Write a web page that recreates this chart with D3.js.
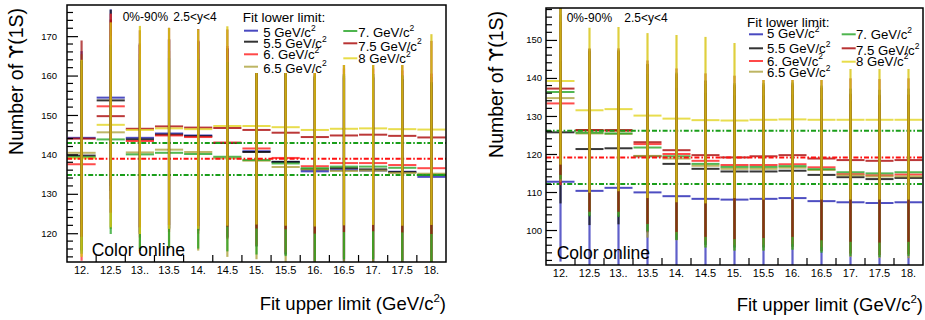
<!DOCTYPE html>
<html><head><meta charset="utf-8">
<script src="https://cdn.jsdelivr.net/npm/d3@7"></script>
<style>body{margin:0;background:#fff} text{font-family:"Liberation Sans",Arial,Helvetica,sans-serif;}</style>
</head><body><svg id="c" width="925" height="320"></svg>
<script>
// ---------------- DATA ----------------
const categories = ["12.","12.5","13..","13.5","14.","14.5","15.","15.5","16.","16.5","17.","17.5","18."];
const seriesNames = ["5 GeV/c","5.5 GeV/c","6. GeV/c","6.5 GeV/c","7. GeV/c","7.5 GeV/c","8 GeV/c"];
const seriesColors = ["#1c1cb0","#000000","#ff1a1a","#aca23c","#22a322","#a80000","#e2d41c"];

// Left panel: Number of Upsilon(1S) per fit upper limit, one array per fit lower limit
const left5  = [144.2,154.4,144.2,145.3,144.8,142.9,140.8,138.1,135.7,136.0,135.9,135.6,134.3];
const left55 = [139.7,153.7,143.8,145.0,144.6,142.9,140.6,138.1,136.2,136.5,136.2,135.5,134.8];
const left6  = [137.5,152.2,143.4,144.8,144.4,143.0,141.5,139.1,137.0,137.8,137.8,137.3,136.5];
const left65 = [140.4,145.6,140.5,141.2,140.6,139.0,138.4,136.8,136.3,135.8,135.9,135.3,135.1];
const left7  = [139.3,143.8,140.0,140.4,140.1,139.4,138.6,137.7,136.5,136.9,136.9,136.6,134.8];
const left75 = [144.0,149.7,146.5,147.1,146.8,146.7,146.2,145.5,144.4,144.8,145.0,144.7,144.3];
const left8  = [139.0,147.5,146.2,146.6,146.4,147.2,147.2,146.9,146.2,146.5,146.6,146.4,146.3];
// Left panel errors
const leftErr5  = [22.0,22.4,24.0,24.0,24.0,24.0,24.0,23.5,23.5,23.5,23.5,23.5,23.5];
const leftErr55 = [24.0,23.0,24.0,24.0,24.0,24.0,24.0,23.5,23.5,23.5,23.5,23.5,23.5];
const leftErr6  = [24.5,23.5,24.5,24.5,24.5,24.5,24.5,24.0,24.0,24.0,24.0,24.0,24.0];
const leftErr65 = [25.0,24.5,25.0,25.0,25.0,25.0,25.0,24.5,24.5,24.5,24.5,24.5,24.5];
const leftErr7  = [24.5,24.0,24.0,24.0,24.0,24.0,24.0,23.5,23.5,23.5,23.5,23.5,23.5];
const leftErr75 = [24.9,24.5,25.0,25.0,25.0,25.0,25.0,24.5,24.5,24.5,24.5,24.5,24.5];
const leftErr8  = [25.0,26.0,26.4,25.5,25.3,25.3,25.0,25.0,24.5,24.5,24.5,24.5,24.2];
// Left reference lines (dash-dot)
const leftGreenLines = [142.9,134.8];
const leftRedLines = [138.9];

// Right panel
const right5  = [112.7,110.3,111.1,109.9,108.9,108.2,108.0,108.2,108.4,107.6,107.3,107.1,107.3];
const right55 = [125.7,121.3,121.5,119.4,117.4,116.1,115.4,115.4,115.6,114.5,113.9,113.4,113.7];
const right6  = [133.3,126.2,126.1,122.6,120.0,118.2,117.1,117.1,117.3,116.5,114.7,114.4,114.6];
const right65 = [134.7,125.4,125.3,119.5,118.8,116.9,116.1,116.1,116.4,115.8,114.4,114.1,114.1];
const right7  = [136.3,125.6,125.4,121.7,119.4,117.4,116.6,116.6,116.8,116.0,115.2,114.9,115.2];
const right75 = [137.2,126.3,126.3,123.1,121.0,119.7,119.1,119.4,119.7,118.8,118.4,118.2,118.4];
const right8  = [139.2,131.5,131.8,130.1,129.3,128.9,128.8,129.0,129.1,129.0,129.0,129.0,129.0];
const rightErr5  = [21.0,21.0,21.0,21.0,21.0,21.0,21.0,21.0,21.0,21.0,21.0,21.0,21.0];
const rightErr55 = [18.7,20.0,20.0,20.0,20.0,20.0,20.0,20.0,20.0,20.0,20.0,20.0,20.0];
const rightErr6  = [21.5,21.0,21.0,21.0,21.0,21.0,21.0,21.0,21.0,21.0,21.0,21.0,21.0];
const rightErr65 = [22.0,21.5,21.5,21.5,21.5,21.5,21.5,21.5,21.5,21.5,21.5,21.5,21.5];
const rightErr7  = [23.0,22.0,22.0,22.0,22.0,22.0,22.0,22.0,22.0,22.0,22.0,22.0,22.0];
const rightErr75 = [22.7,21.5,21.5,21.5,21.5,21.5,21.5,21.5,21.5,21.5,21.5,21.5,21.5];
const rightErr8  = [22.0,21.7,21.6,21.7,22.0,21.9,20.4,21.0,21.0,21.0,21.0,21.0,21.0];
const rightGreenLines = [126.1,112.1];
const rightRedLines = [119.1];

const leftYTicks = [120,130,140,150,160,170];
const rightYTicks = [100,110,120,130,140,150];

// ---------------- DRAW ----------------
const svg = d3.select("#c");
svg.append("rect").attr("width",925).attr("height",320).attr("fill","#fff");
const barColors = ["#2a2ab8","#111111","#ff2a2a","#a89c30","#22a322","#a01010","#d8c414"];

function drawPanel(cfg){
  const g = svg.append("g");
  const x = d3.scaleBand().domain(categories).range([cfg.x0,cfg.x1]).padding(0);
  const y = d3.scaleLinear().domain([cfg.yMin,cfg.yMax]).range([cfg.y1,cfg.y0]);
  const clipId = "clip"+cfg.id;
  svg.append("clipPath").attr("id",clipId).append("rect")
    .attr("x",cfg.x0).attr("y",cfg.y0).attr("width",cfg.x1-cfg.x0).attr("height",cfg.y1-cfg.y0);
  const plot = g.append("g").attr("clip-path",`url(#${clipId})`);

  // horizontal histogram lines
  cfg.values.forEach((vals,si)=>{
    plot.append("g").selectAll("line").data(vals).join("line")
      .attr("x1",(d,i)=>x(categories[i])+0.5).attr("x2",(d,i)=>x(categories[i])+x.bandwidth()-0.5)
      .attr("y1",d=>y(d)).attr("y2",d=>y(d))
      .attr("stroke",seriesColors[si]).attr("stroke-width",2).attr("stroke-opacity",0.78);
  });
  // dash-dot reference lines
  const ref = [...cfg.green.map(v=>({v,c:"#1a9e1a"})),...cfg.red.map(v=>({v,c:"#ff1010"}))];
  plot.append("g").selectAll("line").data(ref).join("line")
    .attr("x1",cfg.x0).attr("x2",cfg.x1).attr("y1",d=>y(d.v)).attr("y2",d=>y(d.v))
    .attr("stroke",d=>d.c).attr("stroke-width",2).attr("stroke-dasharray","5,2,1.6,2");
  // vertical error bars
  cfg.values.forEach((vals,si)=>{
    const errs = cfg.errors[si];
    plot.append("g").selectAll("line").data(vals).join("line")
      .attr("x1",(d,i)=>x(categories[i])+x.bandwidth()/2).attr("x2",(d,i)=>x(categories[i])+x.bandwidth()/2)
      .attr("y1",(d,i)=>y(d+errs[i])).attr("y2",(d,i)=>y(d-errs[i]))
      .attr("stroke",barColors[si]).attr("stroke-width",2.2)
      .attr("stroke-opacity",si===6?0.82:0.75);
  });

  // legend white boxes (occluding)
  cfg.legendBoxes.forEach(b=>{
    g.append("rect").attr("x",b[0]).attr("y",b[1]).attr("width",b[2]).attr("height",b[3]).attr("fill","#fff");
  });

  // frame
  g.append("rect").attr("x",cfg.x0).attr("y",cfg.y0).attr("width",cfg.x1-cfg.x0).attr("height",cfg.y1-cfg.y0)
    .attr("fill","none").attr("stroke","#000").attr("stroke-width",1.5);

  // y axis
  const yAxis = d3.axisLeft(y).tickValues(cfg.yTicks).tickSize(-11).tickPadding(cfg.yLabelPad).tickFormat(d3.format("d"));
  const ya = g.append("g").attr("transform",`translate(${cfg.x0},0)`).call(yAxis);
  ya.select(".domain").remove();
  ya.selectAll("line").attr("stroke","#000").attr("stroke-width",1.2);
  ya.selectAll("text").attr("font-size",cfg.yLabelSize).attr("fill","#000");
  const minor = d3.range(Math.ceil(cfg.yMin/2)*2, cfg.yMax, 2).filter(v=>v%10!==0);
  g.append("g").selectAll("line").data(minor).join("line")
    .attr("x1",cfg.x0).attr("x2",cfg.x0+6).attr("y1",d=>y(d)).attr("y2",d=>y(d))
    .attr("stroke","#000").attr("stroke-width",1.2);

  // x axis: ticks at bin edges, labels at bin centers
  const edges = categories.slice(1);
  g.append("g").selectAll("line").data(edges).join("line")
    .attr("x1",d=>x(d)).attr("x2",d=>x(d)).attr("y1",cfg.y1).attr("y2",cfg.y1-7)
    .attr("stroke","#000").attr("stroke-width",1.2);
  g.append("g").selectAll("text").data(categories).join("text")
    .attr("x",d=>x(d)+x.bandwidth()/2).attr("y",cfg.y1+12)
    .attr("text-anchor","middle").attr("font-size",11).text(d=>d);

  // axis titles
  const yt = g.append("text").attr("transform",`translate(${cfg.yTitleX},${cfg.y0+3}) rotate(-90)`)
    .attr("text-anchor","end").attr("font-size",19.5);
  yt.append("tspan").text("Number of ");
  yt.append("tspan").attr("font-family","'DejaVu Sans',sans-serif").text("\u03D2");
  yt.append("tspan").text("(1S)");
  const xt = g.append("text").attr("x",cfg.x1).attr("y",cfg.xTitleY).attr("text-anchor","end").attr("font-size",18.5);
  xt.append("tspan").text("Fit upper limit (GeV/c");
  xt.append("tspan").attr("font-size",11.5).attr("dy",-8).text("2");
  xt.append("tspan").attr("dy",8).text(")");

  // top labels
  g.append("text").attr("x",cfg.lab1X).attr("y",cfg.labY).attr("font-size",12).text("0%-90%");
  g.append("text").attr("x",cfg.lab2X).attr("y",cfg.labY).attr("font-size",12).text("2.5<y<4");

  // legend
  g.append("text").attr("x",cfg.legTitle[0]).attr("y",cfg.legTitle[1]).attr("font-size",13.5).text("Fit lower limit:");
  cfg.legendEntries.forEach((e,si)=>{
    g.append("line").attr("x1",e[0]).attr("x2",e[0]+14).attr("y1",e[2]).attr("y2",e[2])
      .attr("stroke",seriesColors[si]).attr("stroke-width",2).attr("stroke-opacity",0.8);
    const t = g.append("text").attr("x",e[1]).attr("y",e[3]).attr("font-size",13.2);
    t.append("tspan").text(seriesNames[si]);
    t.append("tspan").attr("font-size",8.5).attr("dy",-6.5).text("2");
  });

  // Color online
  g.append("text").attr("x",cfg.colX).attr("y",cfg.colY).attr("font-size",17.5).text("Color online");
}

drawPanel({
  id:"L", x0:67, x1:446, y0:5, y1:262, yMin:112.7, yMax:177.9,
  yTicks:leftYTicks, yLabelPad:10, yLabelSize:9.5, yTitleX:22.5, xTitleY:310,
  values:[left5,left55,left6,left65,left7,left75,left8],
  errors:[leftErr5,leftErr55,leftErr6,leftErr65,leftErr7,leftErr75,leftErr8],
  green:leftGreenLines, red:leftRedLines,
  legendBoxes:[[238,7,98,66],[336,7,89,58]],
  lab1X:122.7, lab2X:173.3, labY:20.7,
  legTitle:[242.7,21.7],
  legendEntries:[[244,263.3,30.7,37.3],[244,263.3,41.7,48.3],[244,263.3,54.3,59.3],[244,263.3,66.7,72.7],
                 [343.3,358.3,31,37.3],[343.3,358.3,43.3,50.7],[343.3,358.3,58.3,63.3]],
  colX:91.7, colY:256
});
drawPanel({
  id:"R", x0:546, x1:923, y0:8, y1:265, yMin:90.8, yMax:158.4,
  yTicks:rightYTicks, yLabelPad:4, yLabelSize:9.5, yTitleX:503, xTitleY:311,
  values:[right5,right55,right6,right65,right7,right75,right8],
  errors:[rightErr5,rightErr55,rightErr6,rightErr65,rightErr7,rightErr75,rightErr8],
  green:rightGreenLines, red:rightRedLines,
  legendBoxes:[[745,10,92,70],[837,10,84,59]],
  lab1X:566.7, lab2X:624.3, labY:21.7,
  legTitle:[747,26.7],
  legendEntries:[[749,767,34.3,38.3],[749,767,48.3,53],[749,767,61,65.7],[749,767,71.7,77.3],
                 [841.7,856,34.3,39],[841.7,856,48.3,55],[841.7,856,61.7,65.7]],
  colX:556.7, colY:259
});
</script></body></html>
